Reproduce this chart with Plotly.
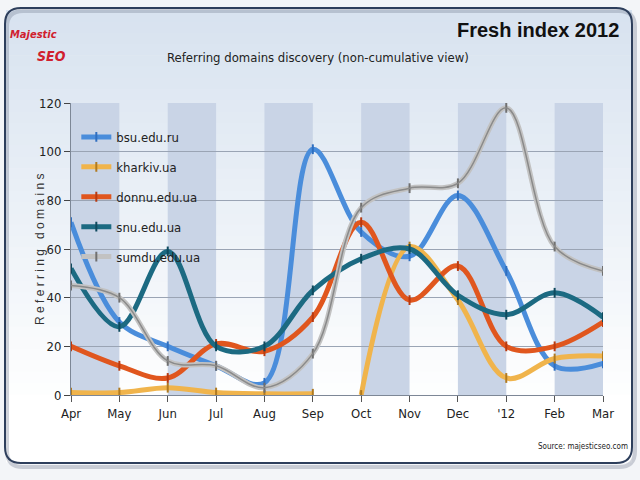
import plotly.graph_objects as go

months = ["Apr", "May", "Jun", "Jul", "Aug", "Sep", "Oct", "Nov", "Dec", "'12", "Feb", "Mar"]
bsu = [71, 30, 20, 12, 5, 101, 67, 57, 82, 51, 12, 13]
kharkiv = [1, 1, 3, 1, 0.5, 0.5, 0, 61, 39, 7, 15, 16]
donnu = [20, 12, 7, 21, 18, 32, 71, 39, 53, 20, 20, 30]
snu = [52, 28, 59, 20, 20, 43, 56, 60, 41, 33, 42, 32]
sumdu = [45, 40, 14, 12, 3, 17, 77, 85, 87, 118, 61, 51]
y_ticks = [0, 20, 40, 60, 80, 100, 120]

W, H = 640, 480
L, R, T, B = 71, 37, 103, 85
PW, PH = W - L - R, H - T - B

def px(x):
    return (x - L) / PW

def py(y):
    return (H - B - y) / PH

NARROW = "DejaVu Sans Condensed, Liberation Sans Narrow, Arial Narrow, sans-serif"

fig = go.Figure()
xs = list(range(len(months)))

def add_series(name, vals, color, core=None, xs_=None, show=True):
    xx = xs_ if xs_ is not None else xs
    fig.add_trace(go.Scatter(
        x=xx, y=vals, name=name, mode="lines+markers", legendgroup=name,
        showlegend=show,
        line=dict(color=color, width=5, shape="spline", smoothing=1.0),
        marker=dict(symbol="line-ns", size=7, line=dict(color=core or color, width=2)),
    ))

add_series("bsu.edu.ru", bsu, "#4a8ddb", "#2f6fc0")
add_series("kharkiv.ua", kharkiv[:6], "#f0b44c", "#b07a20", xs[:6])
add_series("kharkiv.ua", kharkiv[6:], "#f0b44c", "#b07a20", xs[6:], show=False)
add_series("donnu.edu.ua", donnu, "#e0561e", "#b83a10")
add_series("snu.edu.ua", snu, "#1c6a82", "#0f4a5e")
add_series("sumdu.edu.ua", sumdu, "#c2c2c2", "#707070")
fig.add_trace(go.Scatter(x=xs, y=sumdu, mode="lines", showlegend=False, hoverinfo="skip",
                         legendgroup="sumdu.edu.ua",
                         line=dict(color="#8a8a8a", width=1.5, shape="spline", smoothing=1.0)))

shapes = []
top_c = (216, 227, 240)
bot_c = (255, 255, 255)
y_start, y_end = 10, 462
n = 40
for i in range(n):
    y0 = y_start + (y_end - y_start) * i / n
    y1 = y_start + (y_end - y_start) * (i + 1) / n
    t = min(1.0, (i / n) / 0.85)
    c = tuple(int(top_c[k] + (bot_c[k] - top_c[k]) * t) for k in range(3))
    shapes.append(dict(type="rect", xref="paper", yref="paper", layer="below",
                       x0=px(6), x1=px(632), y0=py(y0), y1=py(y1 + 0.6),
                       fillcolor="rgb(%d,%d,%d)" % c, line=dict(width=0)))

def rounded(x0, y0, x1, y1, r):
    return (f"M {px(x0+r)},{py(y0)} L {px(x1-r)},{py(y0)} "
            f"Q {px(x1)},{py(y0)} {px(x1)},{py(y0+r)} L {px(x1)},{py(y1-r)} "
            f"Q {px(x1)},{py(y1)} {px(x1-r)},{py(y1)} L {px(x0+r)},{py(y1)} "
            f"Q {px(x0)},{py(y1)} {px(x0)},{py(y1-r)} L {px(x0)},{py(y0+r)} "
            f"Q {px(x0)},{py(y0)} {px(x0+r)},{py(y0)} Z")

shapes.append(dict(type="path", xref="paper", yref="paper", layer="above",
                   path=rounded(7, 11, 635, 467, 16), line=dict(color="rgba(120,130,150,0.35)", width=4)))
shapes.append(dict(type="path", xref="paper", yref="paper", layer="above",
                   path=rounded(5, 8, 632, 463, 16), line=dict(color="#2e3f5c", width=2)))

for i in range(0, len(months) - 1, 2):
    shapes.append(dict(type="rect", xref="x", yref="y", layer="below",
                       x0=xs[i], x1=xs[i + 1], y0=0, y1=120,
                       fillcolor="#c9d4e6", line=dict(width=0)))

annotations = [
    dict(text="<b>Fresh index 2012</b>", x=px(621), y=py(30), xref="paper", yref="paper",
         xanchor="right", yanchor="middle", showarrow=False,
         font=dict(family="Liberation Sans, Arial, sans-serif", size=20, color="#111111")),
    dict(text="Referring domains discovery (non-cumulative view)", x=px(318), y=py(57),
         xref="paper", yref="paper", xanchor="center", yanchor="middle", showarrow=False,
         font=dict(family=NARROW, size=13, color="#222222")),
    dict(text="<i><b>Majestic</b></i>", x=px(8), y=py(35), xref="paper", yref="paper",
         xanchor="left", yanchor="middle", showarrow=False,
         font=dict(family=NARROW, size=11, color="#d0202e")),
    dict(text="<i><b>SEO</b></i>", x=px(35), y=py(56), xref="paper", yref="paper",
         xanchor="left", yanchor="middle", showarrow=False,
         font=dict(family=NARROW, size=14, color="#d0202e")),
    dict(text="R e f e r r i n g   d o m a i n s", x=px(40), y=py(250), xref="paper", yref="paper",
         xanchor="center", yanchor="middle", showarrow=False, textangle=-90,
         font=dict(family="Liberation Sans, Arial, sans-serif", size=12, color="#333333")),
    dict(text="Source: majesticseo.com", x=px(630), y=py(446), xref="paper", yref="paper",
         xanchor="right", yanchor="middle", showarrow=False,
         font=dict(family=NARROW, size=8, color="#222222")),
]

fig.update_layout(
    width=W, height=H,
    margin=dict(l=L, r=R, t=T, b=B),
    paper_bgcolor="#f3f5f8",
    plot_bgcolor="#dfe7f2",
    shapes=shapes,
    annotations=annotations,
    showlegend=True,
    legend=dict(x=0.01, y=0.935, xanchor="left", yanchor="top",
                bgcolor="rgba(0,0,0,0)", tracegroupgap=10,
                font=dict(family=NARROW, size=13, color="#222222"),
                itemwidth=30),
    xaxis=dict(range=[0, 11], tickmode="array", tickvals=xs, ticktext=months,
               showgrid=False, zeroline=False, showline=True, linecolor="#7d8796", linewidth=1,
               ticks="outside", ticklen=6, tickcolor="#555555",
               tickfont=dict(family=NARROW, size=13, color="#222222")),
    yaxis=dict(range=[0, 120], tickmode="array", tickvals=y_ticks,
               showgrid=True, gridcolor="#9aa4b4", gridwidth=1, zeroline=False,
               showline=True, linecolor="#7d8796", linewidth=1,
               ticks="outside", ticklen=6, tickcolor="#444444",
               tickfont=dict(family=NARROW, size=13, color="#222222")),
)

fig.write_html("out.html", config={"displayModeBar": False},
               post_script="document.body.style.margin='0px';")
